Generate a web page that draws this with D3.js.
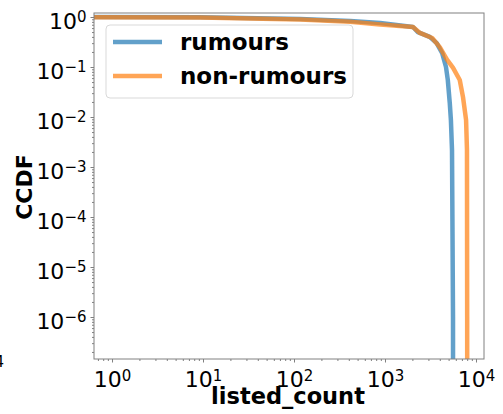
<!DOCTYPE html>
<html>
<head>
<meta charset="utf-8">
<script src="https://cdn.jsdelivr.net/npm/d3@7"></script>
<style>
  body { margin: 0; background: #fff; }
  svg { font-family: 'DejaVu Sans', sans-serif; }
</style>
</head>
<body>
<script>
(function () {
  'use strict'

  // Data (x = listed_count, y = CCDF)
  var rumoursCount = [0.6, 9.3, 117, 414, 885, 2030, 2300, 3100, 3700, 4250, 4680, 4900, 5150, 5300, 5450, 5590, 5600]
  var rumoursCcdf = [1.0, 0.99, 0.91, 0.83, 0.76, 0.63, 0.50, 0.40, 0.30, 0.19, 0.10, 0.055, 0.019, 0.0087, 0.0022, 1e-6, 1e-8]
  var nonRumoursCount = [0.6, 9.3, 117, 414, 885, 2030, 2420, 3300, 4000, 4800, 5600, 6630, 7200, 7780, 7960, 8000, 8010]
  var nonRumoursCcdf = [0.99, 0.98, 0.89, 0.80, 0.71, 0.63, 0.48, 0.38, 0.25, 0.14, 0.096, 0.055, 0.025, 0.0087, 0.0022, 1e-6, 1e-8]
  var seriesNames = ['rumours', 'non-rumours']
  var seriesColors = ['#1f77b4', '#ff7f0e']
  var xTickExp = [0, 1, 2, 3, 4]
  var yTickExp = [0, -1, -2, -3, -4, -5, -6]

  var dim = { w: 503, h: 414 }
  var offset = { left: 94, top: 13, right: 19, bottom: 55 }
  var w = dim.w - offset.left - offset.right
  var h = dim.h - offset.top - offset.bottom

  var x = d3.scaleLog().domain([Math.pow(10, -0.198), Math.pow(10, 4.088)]).range([0, w])
  var y = d3.scaleLog().domain([Math.pow(10, -6.84), Math.pow(10, 0.08)]).range([h, 0])

  var svg = d3.select('body').append('svg')
    .attr('width', dim.w)
    .attr('height', dim.h)

  var g = svg.append('g')
    .attr('transform', 'translate(' + offset.left + ',' + offset.top + ')')

  svg.append('defs').append('clipPath').attr('id', 'clip')
    .append('rect').attr('width', w).attr('height', h)

  function minors (lo, hi) {
    var out = []
    for (var e = lo; e <= hi; e++) {
      for (var m = 2; m < 10; m++) out.push(m * Math.pow(10, e))
    }
    return out
  }

  function supLabel (sel, exps) {
    sel.selectAll('.tick text').each(function (d, i) {
      var t = d3.select(this).text(null)
      t.append('tspan').text('10')
      t.append('tspan').attr('dy', '-0.45em').attr('font-size', 15)
        .text(String(exps[i]).replace('-', '\u2212'))
    })
  }

  // minor ticks
  g.append('g').attr('class', 'minor')
    .attr('transform', 'translate(0,' + h + ')')
    .call(d3.axisBottom(x).tickValues(minors(-1, 3).filter(function (v) {
      return v >= x.domain()[0] && v <= x.domain()[1]
    })).tickSize(2).tickFormat(''))
  g.append('g').attr('class', 'minor')
    .call(d3.axisLeft(y).tickValues(minors(-7, 0).filter(function (v) {
      return v >= y.domain()[0] && v <= y.domain()[1]
    })).tickSize(2).tickFormat(''))

  // major ticks
  var xAxis = g.append('g').attr('class', 'major')
    .attr('transform', 'translate(0,' + h + ')')
    .call(d3.axisBottom(x).tickValues(xTickExp.map(function (e) { return Math.pow(10, e) }))
      .tickSize(3.5).tickPadding(4))
  supLabel(xAxis, xTickExp)
  xAxis.selectAll('.tick text').attr('dy', '0.95em')

  var yAxis = g.append('g').attr('class', 'major')
    .call(d3.axisLeft(y).tickValues(yTickExp.map(function (e) { return Math.pow(10, e) }))
      .tickSize(3.5).tickPadding(4))
  supLabel(yAxis, yTickExp)
  yAxis.selectAll('.tick text').attr('dy', '0.5em')

  g.selectAll('.domain').remove()
  g.selectAll('.tick line').attr('stroke', '#808080')
  g.selectAll('.major .tick text').attr('font-size', 22).attr('fill', '#000')
    .attr('font-family', "'DejaVu Sans', sans-serif")

  // curves
  var line = d3.line()
    .x(function (d) { return x(d[0]) })
    .y(function (d) { return y(d[1]) })

  var series = [
    d3.zip(rumoursCount, rumoursCcdf),
    d3.zip(nonRumoursCount, nonRumoursCcdf)
  ]

  g.append('g').attr('clip-path', 'url(#clip)')
    .selectAll('path').data(series).enter().append('path')
    .attr('d', line)
    .attr('fill', 'none')
    .attr('stroke', function (d, i) { return seriesColors[i] })
    .attr('stroke-width', 4.5)
    .attr('stroke-opacity', 0.7)
    .attr('stroke-linejoin', 'round')

  // frame
  g.append('rect')
    .attr('width', w).attr('height', h)
    .attr('fill', 'none').attr('stroke', '#808080').attr('stroke-width', 1)

  // legend
  var leg = g.append('g').attr('transform', 'translate(12,12)')
  leg.append('rect')
    .attr('width', 247).attr('height', 73).attr('rx', 4)
    .attr('fill', '#fff').attr('fill-opacity', 0.8)
    .attr('stroke', '#d9d9d9')
  seriesNames.forEach(function (name, i) {
    var yy = 17 + i * 34
    leg.append('line')
      .attr('x1', 7).attr('x2', 56).attr('y1', yy).attr('y2', yy)
      .attr('stroke', seriesColors[i]).attr('stroke-width', 4.5)
      .attr('stroke-opacity', 0.7)
    leg.append('text')
      .attr('x', 74).attr('y', yy).attr('dy', '0.35em')
      .attr('font-size', 23).attr('font-weight', 'bold')
      .text(name)
  })

  // axis labels
  svg.append('text')
    .attr('x', offset.left + w / 2 - 1).attr('y', 404)
    .attr('text-anchor', 'middle')
    .attr('font-size', 22.5).attr('font-weight', 'bold')
    .text('listed_count')

  svg.append('text')
    .attr('transform', 'translate(32,187) rotate(-90)')
    .attr('text-anchor', 'middle')
    .attr('font-size', 22).attr('font-weight', 'bold')
    .text('CCDF')

  // fragment of neighbouring panel label at the left edge
  svg.append('text')
    .attr('x', 4).attr('y', 367)
    .attr('text-anchor', 'end')
    .attr('font-size', 15)
    .text('4')
}())
</script>
</body>
</html>
